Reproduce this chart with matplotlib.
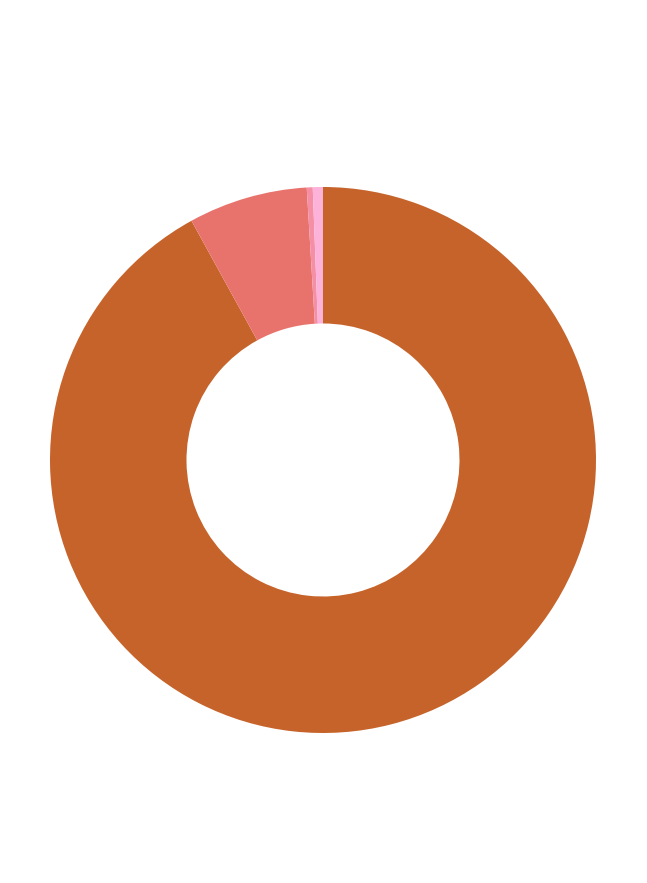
import matplotlib
matplotlib.use("Agg")
import matplotlib.pyplot as plt

# Slice data (clockwise from top)
labels = ["A", "B", "C", "D"]
values = [92.0, 7.05, 0.35, 0.6]
colors = ["#C6632A", "#E8736C", "#F48FA6", "#FDB2DA"]

fig = plt.figure(figsize=(6.47, 8.83), dpi=100)
ax = fig.add_axes([50 / 647, 150 / 883, 546 / 647, 546 / 883])

ax.pie(values, colors=colors, startangle=90, counterclock=False,
       wedgeprops=dict(width=0.5, linewidth=0))
ax.set_aspect("equal")
ax.set_xlim(-1, 1)
ax.set_ylim(-1, 1)

fig.savefig("out.png", dpi=100)
